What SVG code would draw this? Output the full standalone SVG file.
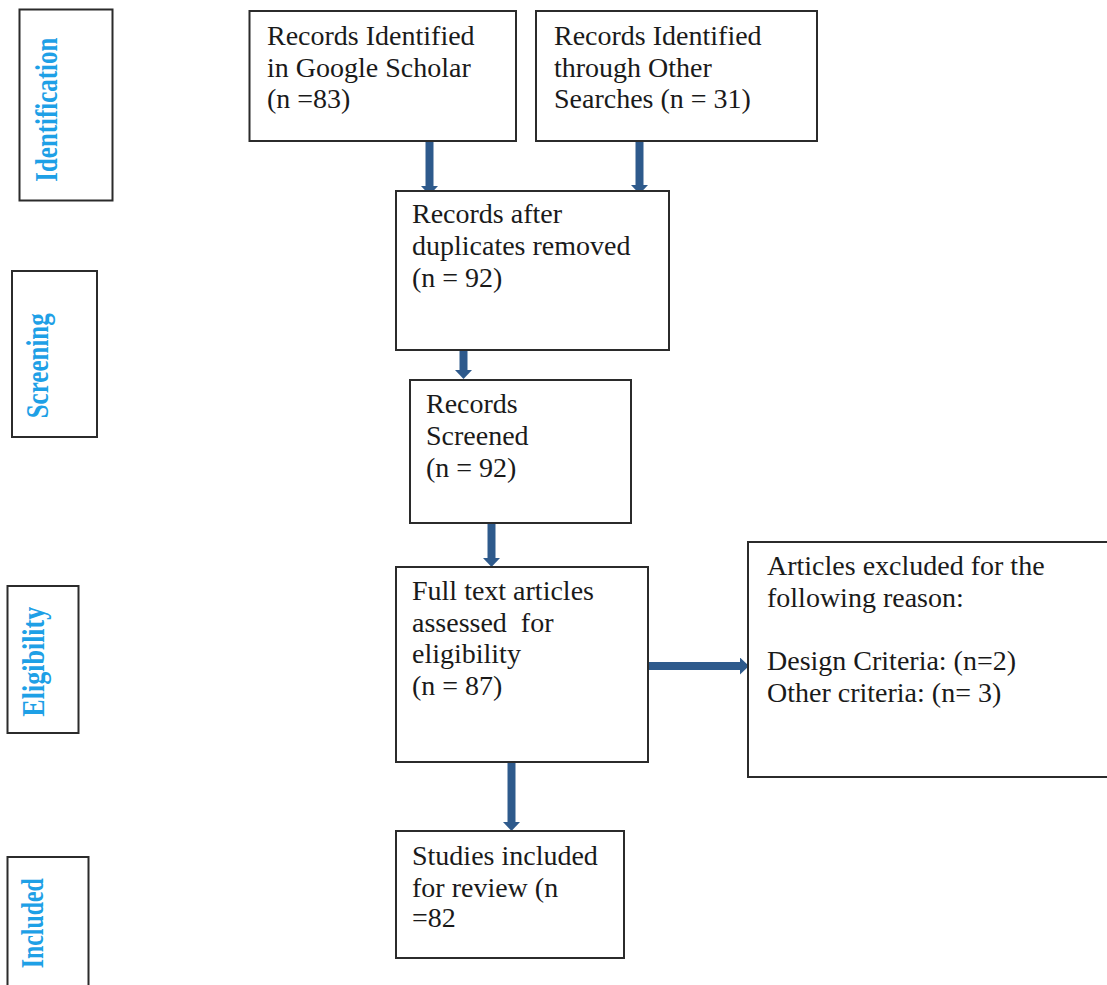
<svg xmlns="http://www.w3.org/2000/svg" width="1107" height="985" viewBox="0 0 1107 985">
<style>
.box{fill:#fff;stroke:#2b2b2b;stroke-width:2}
.t{font-family:"Liberation Serif","Times New Roman",serif;font-size:28px;fill:#1a1a1a}
.lbl{font-family:"Liberation Serif","Times New Roman",serif;font-size:25px;font-weight:bold;fill:#1ea0e6;text-anchor:middle}
.arr{stroke:#2e5a8c;stroke-width:8;fill:none;marker-end:url(#head)}
</style>
<defs>
<marker id="head" viewBox="0 0 9 17" refX="0" refY="8.5" markerWidth="9" markerHeight="17" markerUnits="userSpaceOnUse" orient="auto">
<path d="M0,0 L9,8.5 L0,17 z" fill="#2e5a8c"/>
</marker>
</defs>
<rect width="1107" height="985" fill="#fff"/>

<g id="label-identification">
<rect class="box" x="19.5" y="9.5" width="93" height="191"/>
<text class="lbl" transform="translate(57,109.7) rotate(-90) scale(1,1.3)" textLength="144" lengthAdjust="spacingAndGlyphs">Identification</text>
</g>
<g id="label-screening">
<rect class="box" x="12" y="271" width="85" height="166"/>
<text class="lbl" transform="translate(47.5,365.8) rotate(-90) scale(1,1.3)" textLength="105" lengthAdjust="spacingAndGlyphs">Screening</text>
</g>
<g id="label-eligibility">
<rect class="box" x="7.5" y="586" width="71" height="147"/>
<text class="lbl" transform="translate(43.5,661.7) rotate(-90) scale(1,1.3)" textLength="110" lengthAdjust="spacingAndGlyphs">Eligibility</text>
</g>
<g id="label-included">
<rect class="box" x="7.5" y="857" width="81" height="140"/>
<text class="lbl" transform="translate(42.7,923.3) rotate(-90) scale(1,1.3)" textLength="90" lengthAdjust="spacingAndGlyphs">Included</text>
</g>

<g id="connectors">
<line class="arr" x1="429.5" y1="141" x2="429.5" y2="186"/>
<line class="arr" x1="639.5" y1="138" x2="639.5" y2="185"/>
<line class="arr" x1="463.5" y1="350" x2="463.5" y2="370"/>
<line class="arr" x1="491.5" y1="523" x2="491.5" y2="558"/>
<line class="arr" x1="511.5" y1="759" x2="511.5" y2="822"/>
<line class="arr" x1="647" y1="666" x2="740" y2="666"/>
</g>

<g id="n-google">
<rect class="box" x="249.5" y="11" width="266.5" height="130"/>
<text class="t"><tspan x="267" y="45">Records Identified</tspan><tspan x="267" y="76.7">in Google Scholar</tspan><tspan x="267" y="108.4">(n =83)</tspan></text>
</g>
<g id="n-other">
<rect class="box" x="536" y="11" width="281" height="130"/>
<text class="t"><tspan x="554" y="45">Records Identified</tspan><tspan x="554" y="76.7">through Other</tspan><tspan x="554" y="108.4">Searches (n = 31)</tspan></text>
</g>
<g id="n-dup">
<rect class="box" x="396" y="191" width="273" height="159"/>
<text class="t"><tspan x="412" y="223.3">Records after</tspan><tspan x="412" y="255">duplicates removed</tspan><tspan x="412" y="286.7">(n = 92)</tspan></text>
</g>
<g id="n-screened">
<rect class="box" x="410" y="380" width="221" height="143"/>
<text class="t"><tspan x="426" y="413.3">Records</tspan><tspan x="426" y="445">Screened</tspan><tspan x="426" y="476.7">(n = 92)</tspan></text>
</g>
<g id="n-fulltext">
<rect class="box" x="396" y="567" width="252" height="195"/>
<text class="t" xml:space="preserve"><tspan x="412" y="600">Full text articles</tspan><tspan x="412" y="631.7">assessed  for</tspan><tspan x="412" y="663.4">eligibility</tspan><tspan x="412" y="695">(n = 87)</tspan></text>
</g>
<g id="n-excluded">
<rect class="box" x="748" y="542" width="380" height="235"/>
<text class="t"><tspan x="767" y="575">Articles excluded for the</tspan><tspan x="767" y="606.7">following reason:</tspan><tspan x="767" y="670">Design Criteria: (n=2)</tspan><tspan x="767" y="701.7">Other criteria: (n= 3)</tspan></text>
</g>
<g id="n-included">
<rect class="box" x="396" y="831" width="228" height="127"/>
<text class="t"><tspan x="412" y="865">Studies included</tspan><tspan x="412" y="896.7">for review (n</tspan><tspan x="412" y="927">=82</tspan></text>
</g>
</svg>
